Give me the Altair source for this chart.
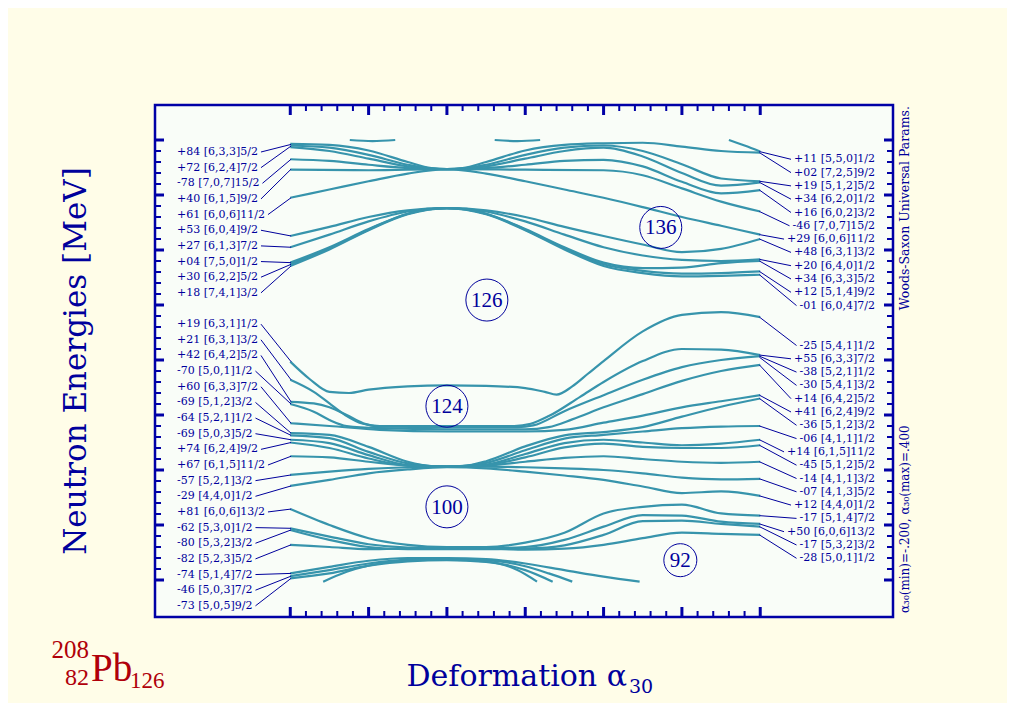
import altair as alt
import pandas as pd

# ---------------- values ----------------
# each curve: knots (alpha30, neutron energy in MeV)
CURVES_TOP = [
    [(-0.2,-3.07),(-0.15,-3.09),(-0.1,-3.19),(-0.05,-3.40),(-0.02,-3.51),(0.0,-3.53),(0.02,-3.51),(0.05,-3.40),(0.1,-3.19),(0.15,-3.09),(0.2,-3.06),(0.25,-3.05),(0.3,-3.12),(0.35,-3.20),(0.4,-3.23)],
    [(-0.2,-3.10),(-0.15,-3.14),(-0.1,-3.27),(-0.05,-3.45),(-0.02,-3.52),(0.0,-3.53),(0.02,-3.52),(0.05,-3.45),(0.1,-3.27),(0.15,-3.14),(0.2,-3.10),(0.25,-3.20),(0.3,-3.44),(0.35,-3.70),(0.4,-3.75)],
    [(-0.2,-3.13),(-0.15,-3.20),(-0.1,-3.34),(-0.05,-3.48),(0.0,-3.53),(0.05,-3.48),(0.1,-3.34),(0.15,-3.20),(0.2,-3.14),(0.25,-3.30),(0.3,-3.60),(0.35,-3.83),(0.4,-3.77)],
    [(-0.2,-3.35),(-0.15,-3.38),(-0.1,-3.45),(-0.05,-3.51),(0.0,-3.53),(0.05,-3.51),(0.1,-3.45),(0.15,-3.38),(0.2,-3.36),(0.25,-3.48),(0.3,-3.76),(0.35,-3.97),(0.4,-3.91)],
    [(-0.2,-3.54),(-0.1,-3.55),(0.0,-3.53),(0.1,-3.54),(0.2,-3.55),(0.25,-3.64),(0.3,-3.88),(0.35,-4.12),(0.4,-4.30)],
    [(-0.2,-4.05),(-0.15,-3.90),(-0.1,-3.75),(-0.05,-3.61),(0.0,-3.53),(0.05,-3.61),(0.1,-3.75),(0.15,-3.90),(0.2,-4.05),(0.25,-4.22),(0.3,-4.40),(0.35,-4.56),(0.4,-4.72)],
    [(0.36,-3.0),(0.38,-3.10),(0.4,-3.21)],
    [(-0.124,-3.0),(-0.095,-3.02),(-0.066,-3.0)],
    [(0.061,-3.0),(0.09,-3.02),(0.119,-3.0)],
]
CURVES_G = [
    [(-0.2,-4.745),(-0.15,-4.58),(-0.1,-4.40),(-0.05,-4.28),(0.0,-4.24),(0.05,-4.28),(0.1,-4.40),(0.15,-4.58),(0.2,-4.745),(0.25,-4.90),(0.3,-5.04),(0.35,-4.98),(0.4,-4.80)],
    [(-0.2,-4.95),(-0.15,-4.72),(-0.1,-4.48),(-0.05,-4.30),(0.0,-4.24),(0.05,-4.30),(0.1,-4.48),(0.15,-4.72),(0.2,-4.95),(0.25,-5.10),(0.3,-5.18),(0.35,-5.20),(0.4,-5.17)],
    [(-0.2,-5.23),(-0.15,-4.95),(-0.1,-4.62),(-0.05,-4.34),(0.0,-4.24),(0.05,-4.34),(0.1,-4.62),(0.15,-4.95),(0.2,-5.23),(0.25,-5.33),(0.3,-5.32),(0.35,-5.24),(0.4,-5.20)],
    [(-0.2,-5.26),(-0.15,-4.97),(-0.1,-4.63),(-0.05,-4.34),(0.0,-4.24),(0.05,-4.34),(0.1,-4.63),(0.15,-4.97),(0.2,-5.26),(0.25,-5.38),(0.3,-5.43),(0.35,-5.42),(0.4,-5.39)],
    [(-0.2,-5.29),(-0.15,-4.99),(-0.1,-4.64),(-0.05,-4.35),(0.0,-4.24),(0.05,-4.35),(0.1,-4.64),(0.15,-4.99),(0.2,-5.29),(0.25,-5.42),(0.3,-5.48),(0.35,-5.47),(0.4,-5.45)],
]
CURVES_MID = [
    [(-0.2,-7.03),(-0.175,-7.35),(-0.15,-7.58),(-0.125,-7.60),(-0.1,-7.54),(-0.05,-7.48),(0.0,-7.46),(0.05,-7.47),(0.1,-7.51),(0.125,-7.58),(0.14,-7.63),(0.16,-7.48),(0.18,-7.25),(0.2,-7.02),(0.25,-6.48),(0.3,-6.18),(0.35,-6.13),(0.4,-6.22)],
    [(-0.2,-7.36),(-0.17,-7.58),(-0.15,-7.79),(-0.13,-8.0),(-0.107,-8.16),(-0.086,-8.20),(0.0,-8.20),(0.086,-8.20),(0.107,-8.16),(0.13,-8.02),(0.17,-7.67),(0.2,-7.40),(0.25,-7.02),(0.3,-6.80),(0.35,-6.81),(0.4,-6.91)],
    [(-0.2,-7.76),(-0.17,-7.79),(-0.15,-7.86),(-0.128,-8.0),(-0.107,-8.15),(-0.086,-8.21),(0.0,-8.22),(0.09,-8.22),(0.11,-8.19),(0.15,-7.93),(0.2,-7.64),(0.25,-7.36),(0.3,-7.13),(0.35,-7.0),(0.4,-6.93)],
    [(-0.2,-7.80),(-0.17,-7.94),(-0.15,-8.09),(-0.128,-8.20),(-0.086,-8.24),(0.0,-8.26),(0.1,-8.26),(0.13,-8.22),(0.16,-8.08),(0.2,-7.86),(0.25,-7.62),(0.3,-7.38),(0.35,-7.20),(0.4,-7.09)],
    [(-0.2,-8.15),(-0.15,-8.20),(-0.086,-8.27),(0.0,-8.30),(0.1,-8.30),(0.15,-8.27),(0.2,-8.14),(0.25,-8.01),(0.3,-7.86),(0.35,-7.75),(0.4,-7.64)],
    [(-0.2,-8.33),(-0.15,-8.36),(-0.1,-8.58),(-0.05,-8.85),(-0.02,-8.93),(0.0,-8.94),(0.02,-8.93),(0.05,-8.84),(0.1,-8.57),(0.15,-8.37),(0.2,-8.31),(0.25,-8.22),(0.3,-8.03),(0.35,-7.85),(0.4,-7.70)],
    [(-0.2,-8.37),(-0.15,-8.42),(-0.1,-8.67),(-0.05,-8.88),(0.0,-8.94),(0.05,-8.87),(0.1,-8.64),(0.15,-8.43),(0.2,-8.36),(0.25,-8.30),(0.3,-8.24),(0.35,-8.21),(0.4,-8.20)],
    [(-0.2,-8.45),(-0.15,-8.51),(-0.1,-8.73),(-0.05,-8.91),(0.0,-8.94),(0.05,-8.90),(0.1,-8.71),(0.15,-8.51),(0.2,-8.45),(0.25,-8.50),(0.3,-8.55),(0.35,-8.52),(0.4,-8.45)],
    [(-0.2,-8.50),(-0.15,-8.60),(-0.1,-8.79),(-0.05,-8.92),(0.0,-8.94),(0.05,-8.91),(0.1,-8.77),(0.15,-8.59),(0.2,-8.52),(0.25,-8.58),(0.3,-8.60),(0.35,-8.60),(0.4,-8.55)],
    [(-0.2,-8.75),(-0.15,-8.77),(-0.1,-8.85),(-0.05,-8.92),(0.0,-8.94),(0.05,-8.92),(0.1,-8.85),(0.15,-8.78),(0.2,-8.75),(0.25,-8.80),(0.3,-8.85),(0.35,-8.87),(0.4,-8.85)],
    [(-0.2,-9.09),(-0.15,-9.03),(-0.1,-8.98),(-0.05,-8.95),(0.0,-8.94),(0.05,-8.94),(0.1,-8.95),(0.15,-8.97),(0.2,-9.00),(0.25,-9.06),(0.3,-9.14),(0.35,-9.17),(0.4,-9.16)],
    [(-0.2,-9.29),(-0.15,-9.18),(-0.1,-9.06),(-0.05,-8.99),(0.0,-8.95),(0.05,-8.97),(0.1,-9.03),(0.15,-9.10),(0.2,-9.18),(0.25,-9.30),(0.3,-9.42),(0.35,-9.39),(0.4,-9.47)],
]
CURVES_LOW = [
    [(-0.2,-9.71),(-0.15,-10.0),(-0.1,-10.24),(-0.05,-10.36),(0.0,-10.40),(0.05,-10.40),(0.1,-10.32),(0.15,-10.14),(0.2,-9.79),(0.25,-9.67),(0.3,-9.63),(0.35,-9.79),(0.4,-9.83)],
    [(-0.2,-10.06),(-0.15,-10.21),(-0.1,-10.35),(-0.05,-10.41),(0.0,-10.42),(0.05,-10.42),(0.1,-10.40),(0.15,-10.27),(0.2,-10.03),(0.25,-9.82),(0.3,-9.83),(0.35,-9.94),(0.4,-9.98)],
    [(-0.2,-10.09),(-0.15,-10.27),(-0.1,-10.40),(-0.05,-10.44),(0.0,-10.44),(0.05,-10.44),(0.1,-10.43),(0.15,-10.37),(0.2,-10.18),(0.25,-9.93),(0.3,-9.92),(0.35,-9.98),(0.4,-10.03)],
    [(-0.2,-10.36),(-0.15,-10.40),(-0.1,-10.44),(-0.05,-10.42),(0.0,-10.40),(0.05,-10.42),(0.1,-10.45),(0.15,-10.43),(0.2,-10.36),(0.25,-10.24),(0.3,-10.14),(0.35,-10.16),(0.4,-10.18)],
    [(-0.2,-10.88),(-0.15,-10.76),(-0.1,-10.65),(-0.05,-10.60),(0.0,-10.60),(0.05,-10.62),(0.1,-10.70),(0.15,-10.82),(0.2,-10.94),(0.246,-11.03)],
    [(-0.2,-10.93),(-0.15,-10.82),(-0.1,-10.70),(-0.05,-10.63),(0.0,-10.62),(0.05,-10.64),(0.1,-10.75),(0.13,-10.88),(0.16,-11.03)],
    [(-0.2,-10.97),(-0.15,-10.88),(-0.1,-10.74),(-0.05,-10.66),(0.0,-10.64),(0.05,-10.67),(0.1,-10.82),(0.135,-11.03)],
    [(-0.158,-11.03),(-0.128,-10.85),(-0.086,-10.70),(-0.043,-10.64),(0.0,-10.63),(0.05,-10.66),(0.09,-10.82),(0.115,-11.03)],
]

LEFT_LABELS = ["+84 [6,3,3]5/2", "+72 [6,2,4]7/2", "-78 [7,0,7]15/2", "+40 [6,1,5]9/2", "+61 [6,0,6]11/2",
               "+53 [6,0,4]9/2", "+27 [6,1,3]7/2", "+04 [7,5,0]1/2", "+30 [6,2,2]5/2", "+18 [7,4,1]3/2",
               "+19 [6,3,1]1/2", "+21 [6,3,1]3/2", "+42 [6,4,2]5/2", "-70 [5,0,1]1/2", "+60 [6,3,3]7/2",
               "-69 [5,1,2]3/2", "-64 [5,2,1]1/2", "-69 [5,0,3]5/2", "+74 [6,2,4]9/2", "+67 [6,1,5]11/2",
               "-57 [5,2,1]3/2", "-29 [4,4,0]1/2", "+81 [6,0,6]13/2", "-62 [5,3,0]1/2", "-80 [5,3,2]3/2",
               "-82 [5,2,3]5/2", "-74 [5,1,4]7/2", "-46 [5,0,3]7/2", "-73 [5,0,5]9/2"]
LEFT_SLOTS = [0, 1, 2, 3, 4, 5, 6, 7, 8, 9] + list(range(11, 30))
LEFT_END_E = [-3.08, -3.11, -3.35, -3.53, -4.05, -4.745, -4.95, -5.23, -5.26, -5.29,
              -7.03, -7.36, -7.76, -7.80, -8.15, -8.33, -8.37, -8.45, -8.50, -8.75,
              -9.09, -9.29, -9.71, -10.06, -10.09, -10.36, -10.88, -10.93, -10.97]

RIGHT_LABELS = ["+11 [5,5,0]1/2", "+02 [7,2,5]9/2", "+19 [5,1,2]5/2", "+34 [6,2,0]1/2", "+16 [6,0,2]3/2",
                "-46 [7,0,7]15/2", "+29 [6,0,6]11/2", "+48 [6,3,1]3/2", "+20 [6,4,0]1/2", "+34 [6,3,3]5/2",
                "+12 [5,1,4]9/2", "-01 [6,0,4]7/2",
                "-25 [5,4,1]1/2", "+55 [6,3,3]7/2", "-38 [5,2,1]1/2", "-30 [5,4,1]3/2", "+14 [6,4,2]5/2",
                "+41 [6,2,4]9/2", "-36 [5,1,2]3/2", "-06 [4,1,1]1/2", "+14 [6,1,5]11/2", "-45 [5,1,2]5/2",
                "-14 [4,1,1]3/2", "-07 [4,1,3]5/2", "+12 [4,4,0]1/2", "-17 [5,1,4]7/2", "+50 [6,0,6]13/2",
                "-17 [5,3,2]3/2", "-28 [5,0,1]1/2"]
RIGHT_SLOTS = list(range(0, 12)) + list(range(14, 31))
RIGHT_END_E = [-3.21, -3.23, -3.75, -3.77, -3.91, -4.30, -4.72, -4.80, -5.17, -5.20, -5.39, -5.45,
               -6.22, -6.91, -6.93, -6.95, -7.09, -7.64, -7.70, -8.20, -8.45, -8.55,
               -8.85, -9.16, -9.47, -9.83, -9.98, -10.03, -10.18]

MAGIC_TEXT = ["136", "126", "124", "100", "92"]
MAGIC_ALPHA = [0.273, 0.051, 0.0, 0.0, 0.298]
MAGIC_E = [-4.59, -5.91, -7.84, -9.67, -10.64]

Y_TICK_VALUES = [-3, -4, -5, -6, -7, -8, -9, -10, -11]
X_TICK_VALUES = [-0.2, -0.1, 0.0, 0.1, 0.2, 0.3, 0.4]

# ---------------- styling / layout ----------------
NAVY = "#00009c"
FRAME = "#0000a6"
CURVE = "#3794ac"
RED = "#b0000a"
CREAM = "#fffde8"
PLOT_BG = "#f9fdf8"
SERIF = "DejaVu Serif"

W, H = 738, 512
XMIN, XMAX = -0.3727, 0.5695
YMAX = -3.0 + 35 / 55.0
YMIN = YMAX - H / 55.0
PXA = W / (XMAX - XMIN)
PYE = H / (YMAX - YMIN)

XS = alt.Scale(domain=[XMIN, XMAX], nice=False, zero=False)
YS = alt.Scale(domain=[YMIN, YMAX], nice=False, zero=False)

CW = {'+': 0.838, '-': 0.338, ' ': 0.318, '[': 0.390, ']': 0.390, ',': 0.318, '/': 0.337}
def text_w(s, size=11):
    return sum(CW.get(c, 0.636) for c in s) * size

def a_of(px):
    return XMIN + px / PXA

def e_of(py):
    return YMAX - py / PYE

# curves table
rows = []
cid = 0
for group in (CURVES_TOP, CURVES_G, CURVES_MID, CURVES_LOW):
    for curve in group:
        for i, (a, e) in enumerate(curve):
            rows.append({"c": cid, "i": i, "a": a, "e": e})
        cid += 1
curves_df = pd.DataFrame(rows)

# labels + leader lines
lab_rows, lead_rows = [], []
for k, t, ee in zip(LEFT_SLOTS, LEFT_LABELS, LEFT_END_E):
    ly = e_of(47 + 15.65 * k)
    lab_rows.append({"a": a_of(22), "e": ly, "t": t, "side": "L"})
    lead_rows.append({"a": a_of(22 + text_w(t) + 3), "e": ly, "a2": -0.199, "e2": ee})
for k, t, ee in zip(RIGHT_SLOTS, RIGHT_LABELS, RIGHT_END_E):
    ly = e_of(54.3 + 13.3 * k)
    lab_rows.append({"a": a_of(720), "e": ly, "t": t, "side": "R"})
    lead_rows.append({"a": a_of(720 - text_w(t) - 3), "e": ly, "a2": 0.399, "e2": ee})
lab_df = pd.DataFrame(lab_rows)
lead_df = pd.DataFrame(lead_rows)

magic_df = pd.DataFrame({"a": MAGIC_ALPHA, "e": MAGIC_E, "t": MAGIC_TEXT})
magic_df["s"] = [1764 if len(t) == 3 else 1089 for t in MAGIC_TEXT]

y_major = pd.DataFrame({"e": [float(v) for v in Y_TICK_VALUES]})
y_minor = pd.DataFrame({"e": [round(-3 - 0.2 * i, 2) for i in range(41) if i % 5]})
x_major = pd.DataFrame({"a": X_TICK_VALUES})
x_minor = pd.DataFrame({"a": [round(-0.2 + 0.02 * i, 3) for i in range(31) if i % 5]})

x_axis = alt.Axis(values=X_TICK_VALUES, title=None, ticks=False, domain=False, grid=False,
                  labelExpr="(datum.value < -0.001 ? '-' : '') + '.' + format(round(abs(datum.value) * 10), 'd')",
                  labelFont=SERIF, labelFontSize=24, labelColor=NAVY, labelPadding=7,
                  labelFlush=False, labelOverlap=False)
y_axis = alt.Axis(values=Y_TICK_VALUES, title=None, ticks=False, domain=False, grid=False,
                  labelExpr="'-' + format(abs(datum.value), 'd')",
                  labelFont=SERIF, labelFontSize=24, labelColor=NAVY, labelPadding=7,
                  labelFlush=False, labelOverlap=False)

curves = alt.Chart(curves_df).mark_line(interpolate="monotone", color=CURVE, strokeWidth=2.2).encode(
    x=alt.X("a:Q", scale=XS, axis=x_axis),
    y=alt.Y("e:Q", scale=YS, axis=y_axis),
    detail="c:N",
    order="i:Q",
)

leaders = alt.Chart(lead_df).mark_rule(color=NAVY, strokeWidth=1).encode(
    x=alt.X("a:Q", scale=XS, axis=None), y=alt.Y("e:Q", scale=YS, axis=None),
    x2="a2:Q", y2="e2:Q")

labels_l = alt.Chart(lab_df[lab_df.side == "L"]).mark_text(
    align="left", baseline="middle", font=SERIF, fontSize=11, color=NAVY).encode(
    x=alt.X("a:Q", scale=XS, axis=None), y=alt.Y("e:Q", scale=YS, axis=None), text="t:N")
labels_r = alt.Chart(lab_df[lab_df.side == "R"]).mark_text(
    align="right", baseline="middle", font=SERIF, fontSize=11, color=NAVY).encode(
    x=alt.X("a:Q", scale=XS, axis=None), y=alt.Y("e:Q", scale=YS, axis=None), text="t:N")

def yticks(df, x0, x1, w):
    return alt.Chart(df).mark_rule(color=FRAME, strokeWidth=w).encode(
        y=alt.Y("e:Q", scale=YS, axis=None), x=alt.value(x0), x2=alt.value(x1))

def xticks(df, y0, y1, w):
    return alt.Chart(df).mark_rule(color=FRAME, strokeWidth=w).encode(
        x=alt.X("a:Q", scale=XS, axis=None), y=alt.value(y0), y2=alt.value(y1))

ticks = [
    yticks(y_major, 0, 9, 3), yticks(y_minor, 0, 6, 2),
    yticks(y_major, W, W - 9, 3), yticks(y_minor, W, W - 6, 2),
    xticks(x_major, 0, 10, 3), xticks(x_minor, 0, 6, 2),
    xticks(x_major, H, H - 10, 3), xticks(x_minor, H, H - 6, 2),
]

circles = alt.Chart(magic_df).mark_point(shape="circle", filled=False, color=NAVY, strokeWidth=1, opacity=1).encode(
    x=alt.X("a:Q", scale=XS, axis=None), y=alt.Y("e:Q", scale=YS, axis=None),
    size=alt.Size("s:Q", scale=None, legend=None))
circle_txt = alt.Chart(magic_df).mark_text(font="Liberation Serif", fontSize=21, color=NAVY,
                                           baseline="middle", dy=1).encode(
    x=alt.X("a:Q", scale=XS, axis=None), y=alt.Y("e:Q", scale=YS, axis=None), text="t:N")

def note(text, x, y, size, color=NAVY, align="left", baseline="alphabetic", angle=0, font=SERIF):
    return alt.Chart(pd.DataFrame({"t": [text]})).mark_text(
        align=align, baseline=baseline, angle=angle, font=font, fontSize=size, color=color).encode(
        x=alt.value(x), y=alt.value(y), text="t:N")

notes = [
    note("Neutron Energies [MeV]", -78, 256, 31, align="center", baseline="middle", angle=270),
    note("Deformation \u03b1", 472, 581, 30, align="right"),
    note("30", 474, 588, 19),
    note("Pb", -64, 576, 39, color=RED, font="Liberation Serif"),
    note("208", -66, 553, 25, color=RED, align="right", font="Liberation Serif"),
    note("82", -66, 580, 24, color=RED, align="right", font="Liberation Serif"),
    note("126", -25, 583, 23, color=RED, font="Liberation Serif"),
    note("Woods-Saxon Universal Params.", 750, 1, 12.5, align="right", baseline="middle", angle=270),
    note("\u03b1\u2083\u2080(min)=-.200, \u03b1\u2083\u2080(max)=.400", 750, 508, 12, align="left", baseline="middle", angle=270),
]

chart = alt.layer(curves, leaders, labels_l, labels_r, *ticks, circles, circle_txt, *notes).properties(
    width=W, height=H,
    autosize=alt.AutoSizeParams(type="none"),
    padding={"left": 147, "top": 97, "right": 114, "bottom": 86},
    background=CREAM,
).configure_view(fill=PLOT_BG, stroke=FRAME, strokeWidth=2.5)

chart.save("out.html", embed_options={"renderer": "svg", "actions": False})
